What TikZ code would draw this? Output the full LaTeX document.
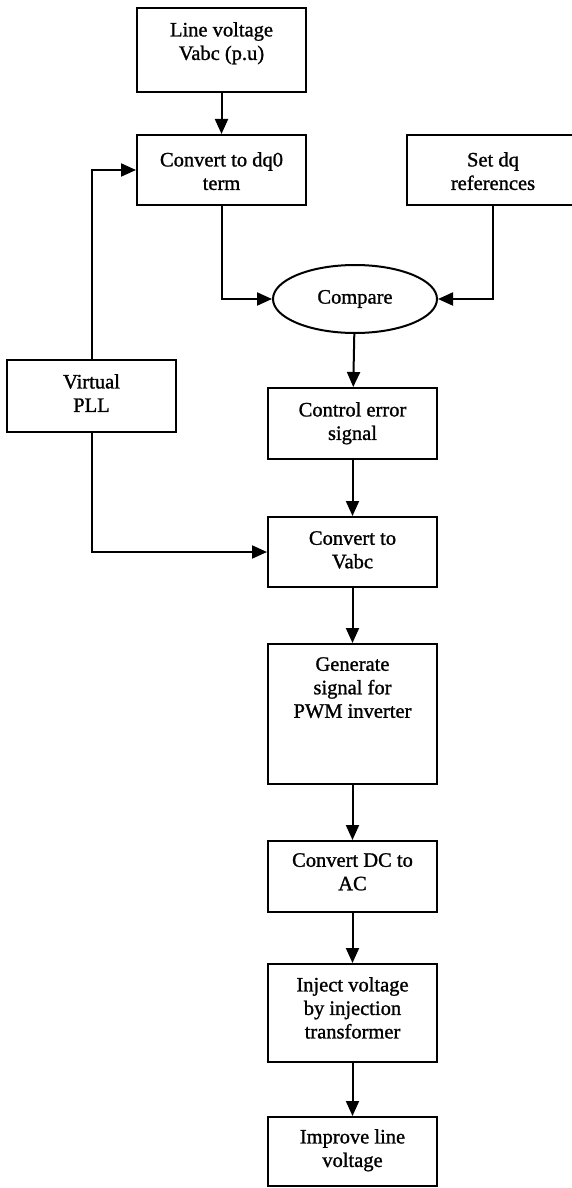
\documentclass[tikz,border=0pt]{standalone}
\usepackage{fontspec}
\setmainfont{Liberation Serif}[BoldFont=Liberation Serif, BoldFeatures={FakeBold=1.2}]
\usetikzlibrary{arrows.meta,shapes.geometric}

% A box with its caption set near the top edge
\newcommand\flowbox[6]{%
  \node[box, minimum width=#3, minimum height=#4] (#1) at #2 {};
  \node[txt] (#1t) at ([yshift=-#5]#1.north) {#6};
}

\begin{document}
\begin{tikzpicture}[x=1pt,y=-1pt,
  box/.style={draw, line width=2pt, rectangle, inner sep=0pt},
  oval/.style={draw, line width=2pt, ellipse, inner sep=0pt,
    minimum width=164pt, minimum height=68pt,
    font=\fontsize{20.5}{23.5}\selectfont\bfseries},
  txt/.style={anchor=north, align=center, inner sep=0pt,
    font=\fontsize{20.5}{23.5}\selectfont\bfseries},
  flow/.style={line width=2pt, -{Triangle[length=15pt,width=13pt]}}]
\useasboundingbox (0,0) rectangle (572,1188);
\fill[white] (0,0) rectangle (572,1188);
\clip (0,0) rectangle (572,1188);

% left / top column
\flowbox{lv}{(221.5,50)}{169pt}{84pt}{15pt}{Line voltage\\Vabc (p.u)}
\flowbox{dq}{(221.5,170)}{169pt}{70pt}{18pt}{Convert to dq0\\term}
\flowbox{ref}{(493,170)}{172pt}{70pt}{18pt}{Set dq\\references}
\flowbox{pll}{(91.5,396)}{169pt}{72pt}{15pt}{Virtual\\PLL}

% comparator
\node[oval] (cmp) at (355,299) {Compare};

% main column
\flowbox{err}{(352.5,423.5)}{169pt}{71pt}{15pt}{Control error\\signal}
\flowbox{abc}{(352.5,552)}{169pt}{70pt}{15pt}{Convert to\\Vabc}
\flowbox{gen}{(352.5,714)}{169pt}{140pt}{14pt}{Generate\\signal for\\PWM inverter}
\flowbox{dc}{(352.5,876.5)}{169pt}{71pt}{13pt}{Convert DC to\\AC}
\flowbox{inj}{(352.5,1013)}{169pt}{98pt}{14pt}{Inject voltage\\by injection\\transformer}
\flowbox{imp}{(352.5,1151.5)}{169pt}{69pt}{13pt}{Improve line\\voltage}

% connectors
\draw[flow] (lv) -- (dq);
\draw[flow] (dq.south) |- (cmp.west);
\draw[flow] (ref.south) |- (cmp.east);
\draw[flow] (pll.north) |- (dq.west);
\draw[flow] (pll.south) |- (abc.west);
\draw[flow] (cmp) -- (err);
\draw[flow] (err) -- (abc);
\draw[flow] (abc) -- (gen);
\draw[flow] (gen) -- (dc);
\draw[flow] (dc) -- (inj);
\draw[flow] (inj) -- (imp);
\end{tikzpicture}
\end{document}
